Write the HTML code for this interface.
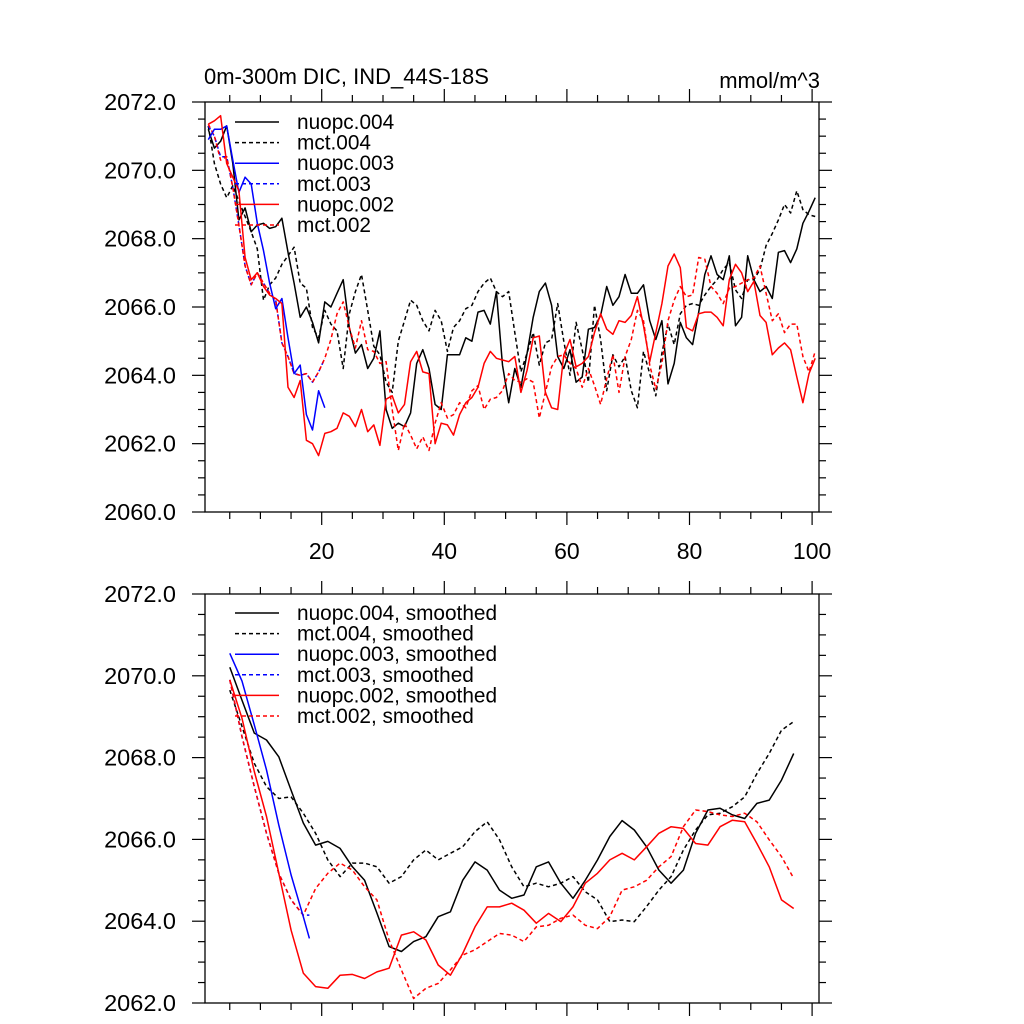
<!DOCTYPE html>
<html><head><meta charset="utf-8"><style>
html,body{margin:0;padding:0;background:#fff;}
svg{display:block;font-family:"Liberation Sans",sans-serif;}
</style></head><body>
<svg id="chart" width="1024" height="1024" viewBox="0 0 1024 1024" xmlns="http://www.w3.org/2000/svg">
<text x="204" y="84" font-size="22">0m-300m DIC, IND_44S-18S</text>
<text x="820" y="88" font-size="22" text-anchor="end">mmol/m^3</text>
<g id="top"></g>
<g id="bot"></g>
</svg>
<script>
// ---------- data ----------
const topYTicks = [2060, 2062, 2064, 2066, 2068, 2070, 2072];
const botYTicks = [2062, 2064, 2066, 2068, 2070, 2072];
const xTickLabels = [20, 40, 60, 80, 100];
const seriesNames = ["nuopc.004","mct.004","nuopc.003","mct.003","nuopc.002","mct.002"];

const nuopc004 = [2071.2,2070.65,2070.85,2071.3,2070.2,2068.55,2068.9,2068.2,2068.4,2068.45,2068.3,2068.35,2068.6,2067.6,2066.7,2065.7,2066.0,2065.55,2064.95,2066.15,2066.0,2066.4,2066.8,2065.4,2064.65,2064.9,2064.2,2064.5,2065.3,2063.0,2062.45,2062.6,2062.5,2062.9,2064.35,2064.75,2064.2,2063.15,2063.0,2064.6,2064.6,2064.6,2065.1,2065.0,2065.85,2065.9,2065.5,2066.45,2064.3,2063.2,2064.2,2063.65,2064.65,2065.7,2066.45,2066.7,2066.05,2064.55,2064.2,2064.75,2063.8,2063.95,2065.35,2065.4,2065.75,2066.6,2066.05,2066.3,2066.95,2066.4,2066.4,2066.65,2065.6,2065.05,2065.6,2063.75,2064.35,2065.55,2065.1,2064.9,2065.85,2066.95,2067.5,2066.95,2066.8,2067.5,2065.45,2065.7,2067.5,2066.8,2066.45,2066.6,2066.25,2067.6,2067.65,2067.3,2067.7,2068.45,2068.8,2069.2];
const mct004 = [2071.3,2070.2,2069.6,2069.2,2069.55,2069.1,2068.65,2068.2,2067.7,2066.2,2066.65,2066.85,2067.25,2067.5,2067.75,2066.7,2066.55,2065.4,2065.1,2065.9,2065.5,2065.3,2064.2,2065.8,2066.45,2066.95,2065.9,2064.85,2064.6,2063.8,2063.5,2065.0,2065.6,2066.2,2066.05,2065.6,2065.3,2065.9,2065.6,2064.7,2065.4,2065.6,2065.95,2066.05,2066.45,2066.7,2066.85,2066.45,2066.3,2066.45,2065.25,2064.1,2064.65,2065.25,2064.3,2064.95,2065.05,2066.1,2065.0,2064.0,2065.55,2064.75,2063.8,2066.05,2065.05,2063.55,2064.6,2064.25,2064.55,2063.55,2063.05,2064.7,2064.05,2063.4,2064.65,2065.5,2064.9,2065.8,2066.05,2066.1,2066.05,2066.35,2066.6,2066.8,2067.1,2067.3,2066.5,2066.25,2066.8,2066.8,2067.1,2067.8,2068.15,2068.55,2069.0,2068.75,2069.4,2068.85,2068.7,2068.65];
const nuopc003 = [2070.9,2071.2,2071.2,2071.3,2070.3,2069.35,2069.8,2069.6,2068.45,2067.65,2066.7,2065.95,2066.25,2065.1,2064.05,2064.3,2062.85,2062.4,2063.55,2063.05];
const mct003 = [2071.3,2071.0,2070.4,2070.4,2069.5,2068.4,2067.2,2066.65,2067.0,2066.7,2066.4,2066.2,2064.95,2064.55,2064.05,2064.0,2064.05,2063.8,2064.1,2064.5];
const nuopc002 = [2071.35,2071.45,2071.6,2070.2,2069.8,2069.4,2067.45,2066.8,2067.0,2066.6,2066.35,2066.25,2066.1,2063.65,2063.35,2063.85,2062.1,2062.0,2061.65,2062.3,2062.35,2062.45,2062.9,2062.8,2062.5,2063.0,2062.35,2062.55,2061.95,2063.3,2063.4,2062.9,2063.15,2064.4,2064.7,2064.1,2064.05,2062.0,2062.6,2062.55,2062.25,2062.85,2063.2,2063.35,2063.65,2064.35,2064.7,2064.5,2064.45,2064.4,2064.55,2063.5,2064.15,2065.1,2065.15,2063.5,2063.05,2063.0,2064.6,2065.05,2064.25,2064.35,2064.55,2065.25,2065.8,2065.35,2065.2,2065.6,2065.55,2065.75,2066.3,2065.45,2064.4,2065.25,2066.1,2067.2,2067.55,2067.15,2065.4,2065.3,2065.8,2065.85,2065.85,2065.7,2065.45,2066.8,2067.25,2067.0,2066.45,2066.75,2065.75,2065.55,2064.6,2064.8,2064.95,2064.75,2063.95,2063.2,2064.05,2064.5];
const mct002 = [2071.35,2071.0,2070.3,2070.4,2069.5,2068.4,2067.2,2066.65,2067.0,2066.7,2066.4,2066.2,2064.95,2064.55,2064.05,2064.0,2064.05,2063.8,2064.1,2064.5,2065.05,2065.8,2066.15,2065.4,2064.8,2065.6,2064.75,2064.7,2064.35,2064.4,2063.0,2061.8,2062.6,2062.25,2061.85,2062.2,2061.8,2062.6,2063.2,2062.75,2062.85,2063.2,2063.05,2063.55,2063.7,2063.0,2063.3,2063.35,2063.55,2064.05,2063.85,2063.8,2063.9,2063.8,2062.75,2063.5,2064.25,2064.55,2064.6,2064.35,2064.2,2063.65,2064.2,2063.7,2063.15,2063.9,2064.6,2063.5,2064.55,2065.05,2065.9,2065.6,2064.3,2063.6,2064.35,2065.6,2066.2,2066.6,2066.3,2066.35,2067.45,2067.4,2066.6,2066.4,2066.1,2066.55,2066.6,2066.7,2066.8,2066.85,2067.2,2066.4,2065.6,2065.8,2065.25,2065.5,2065.5,2064.55,2064.1,2064.7];

const smoothX = [5,7,9,11,13,15,17,19,21,23,25,27,29,31,33,35,37,39,41,43,45,47,49,51,53,55,57,59,61,63,65,67,69,71,73,75,77,79,81,83,85,87,89,91,93,95,97];
const blueSmoothX = [5,7,9,11,13,15,17,18];
const sNuopc004 = [2070.21,2069.4,2068.6,2068.43,2068.02,2067.2,2066.4,2065.86,2065.95,2065.78,2065.33,2065.0,2064.2,2063.38,2063.26,2063.5,2063.62,2064.11,2064.23,2065.0,2065.45,2065.25,2064.76,2064.56,2064.64,2065.33,2065.45,2064.93,2064.56,2065.0,2065.5,2066.07,2066.46,2066.23,2065.82,2065.25,2064.93,2065.25,2066.15,2066.72,2066.76,2066.6,2066.51,2066.88,2066.96,2067.45,2068.1];
const sMct004 = [2069.65,2068.76,2067.86,2067.29,2067.0,2067.04,2066.64,2066.15,2065.5,2065.09,2065.42,2065.42,2065.33,2064.93,2065.09,2065.5,2065.74,2065.5,2065.66,2065.82,2066.19,2066.43,2065.99,2065.33,2064.84,2064.93,2064.84,2064.93,2065.09,2064.72,2064.52,2063.99,2064.03,2063.99,2064.36,2064.76,2065.09,2065.74,2066.23,2066.6,2066.64,2066.8,2067.04,2067.61,2068.1,2068.67,2068.88];
const sNuopc003 = [2070.55,2069.87,2068.8,2067.7,2066.35,2065.13,2064.11,2063.58];
const sMct003 = [2069.9,2068.51,2067.29,2066.15,2065.17,2064.52,2064.15,2064.15];
const sNuopc002 = [2069.9,2068.96,2067.66,2066.56,2065.17,2063.78,2062.73,2062.4,2062.36,2062.68,2062.7,2062.6,2062.76,2062.85,2063.66,2063.74,2063.54,2062.93,2062.68,2063.21,2063.86,2064.35,2064.35,2064.44,2064.27,2063.95,2064.19,2063.99,2064.35,2064.93,2065.17,2065.5,2065.66,2065.5,2065.82,2066.15,2066.31,2066.27,2065.9,2065.86,2066.31,2066.47,2066.43,2065.9,2065.33,2064.52,2064.31];
const sMct002 = [2069.9,2068.51,2067.29,2066.15,2065.17,2064.52,2064.15,2064.8,2065.17,2065.42,2065.25,2064.84,2064.52,2063.54,2062.81,2062.11,2062.36,2062.48,2062.81,2063.17,2063.3,2063.5,2063.7,2063.66,2063.5,2063.86,2063.9,2064.07,2064.15,2063.9,2063.82,2064.11,2064.76,2064.84,2065.0,2065.33,2065.58,2066.31,2066.72,2066.68,2066.6,2066.56,2066.64,2066.43,2065.99,2065.58,2065.05];

// ---------- rendering ----------
const NS = "http://www.w3.org/2000/svg";
const X0 = 205, X1 = 819;
function xs(x){ return 199.1 + 6.13 * x; }
function mk(tag, parent, attrs){
  const e = document.createElementNS(NS, tag);
  for (const k in attrs) e.setAttribute(k, attrs[k]);
  parent.appendChild(e);
  return e;
}
function panel(g, yTop, yBot, vMax, vMin, ticks, name){
  const ys = v => yTop + (vMax - v) * (yBot - yTop) / (vMax - vMin);
  const frame = mk("rect", g, {x:X0, y:yTop, width:X1-X0, height:yBot-yTop, fill:"none", stroke:"#000", "stroke-width":1.3});
  
  
  for (let v = vMin; v <= vMax + 1e-6; v += 0.5) {
    const major = Math.abs(v - Math.round(v/2)*2) < 1e-6;
    const L = major ? 13 : 7;
    const y = ys(v);
    const t1 = mk("line", g, {x1:X0-L, y1:y, x2:X0, y2:y, stroke:"#000", "stroke-width":1.2});
    
    
    const t2 = mk("line", g, {x1:X1, y1:y, x2:X1+L, y2:y, stroke:"#000", "stroke-width":1.2});
    
    
  }
  ticks.forEach(v => {
    const t = mk("text", g, {x:176, y:ys(v)+8, "font-size":23.5, "text-anchor":"end"});
    t.textContent = v.toFixed(1);
    
    
  });
  for (let x = 5; x <= 100; x += 5) {
    const major = x % 20 === 0;
    const L = major ? 13 : 7;
    const px = xs(x);
    const a = mk("line", g, {x1:px, y1:yTop-L, x2:px, y2:yTop, stroke:"#000", "stroke-width":1.2});
    
    
    const b = mk("line", g, {x1:px, y1:yBot, x2:px, y2:yBot+L, stroke:"#000", "stroke-width":1.2});
    
    
  }
  return ys;
}
function series(g, xsArr, vals, ys, color, dashed, name){
  let d = "";
  vals.forEach((v, i) => { d += (i ? "L" : "M") + xs(xsArr[i]).toFixed(1) + "," + ys(v).toFixed(1); });
  const p = mk("path", g, {d:d, fill:"none", stroke:color, "stroke-width":1.5, "stroke-linejoin":"round"});
  if (dashed) p.setAttribute("stroke-dasharray", "4,3");
  
  
}
function legend(g, y0, labels, styles, suffix){
  labels.forEach((lab, i) => {
    const y = y0 + i * 20.6;
    const ln = mk("line", g, {x1:235, y1:y, x2:279, y2:y, stroke:styles[i][0], "stroke-width":1.5});
    if (styles[i][1]) ln.setAttribute("stroke-dasharray", "4,3");
    
    
    const t = mk("text", g, {x:297, y:y+7, "font-size":20.8});
    t.textContent = lab + suffix;
    
    
  });
}
const styles = [["#000",false],["#000",true],["#00f",false],["#00f",true],["#f00",false],["#f00",true]];

const gT = document.getElementById("top");
const ysT = panel(gT, 102, 512, 2072, 2060, topYTicks, "raw");
xTickLabels.forEach(v => {
  const t = mk("text", gT, {x:xs(v), y:559, "font-size":23, "text-anchor":"middle"});
  t.textContent = v;
  
  
});
const topX = nuopc004.map((_, i) => i + 1.5);
series(gT, topX, mct004, ysT, "#000", true, "line-mct004");
series(gT, topX, nuopc004, ysT, "#000", false, "line-nuopc004");
series(gT, topX, mct003, ysT, "#00f", true, "line-mct003");
series(gT, topX, mct002, ysT, "#f00", true, "line-mct002");
series(gT, topX, nuopc003, ysT, "#00f", false, "line-nuopc003");
series(gT, topX, nuopc002, ysT, "#f00", false, "line-nuopc002");
legend(gT, 122, seriesNames, styles, "");

const gB = document.getElementById("bot");
const ysB = panel(gB, 594, 1003, 2072, 2062, botYTicks, "smoothed");
series(gB, smoothX, sMct004, ysB, "#000", true, "line-mct004-smoothed");
series(gB, smoothX, sNuopc004, ysB, "#000", false, "line-nuopc004-smoothed");
series(gB, blueSmoothX, sMct003, ysB, "#00f", true, "line-mct003-smoothed");
series(gB, smoothX, sMct002, ysB, "#f00", true, "line-mct002-smoothed");
series(gB, blueSmoothX, sNuopc003, ysB, "#00f", false, "line-nuopc003-smoothed");
series(gB, smoothX, sNuopc002, ysB, "#f00", false, "line-nuopc002-smoothed");
legend(gB, 613, seriesNames, styles, ", smoothed");
</script>
</body></html>
